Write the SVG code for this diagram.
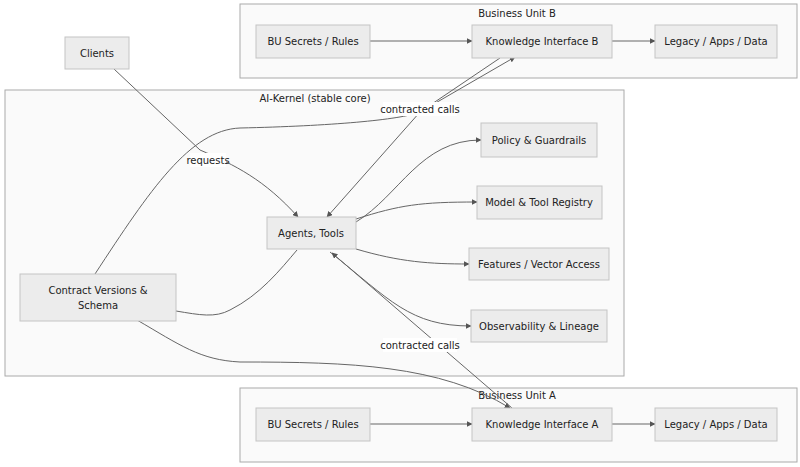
<svg xmlns="http://www.w3.org/2000/svg" width="800" height="467" viewBox="0 0 800 467">
<style>
text{font-family:"DejaVu Sans","Noto Sans",sans-serif;font-size:10px;fill:#222;text-anchor:middle;dominant-baseline:central}
.cl{fill:#fafafa;stroke:#aaa;stroke-width:1}
.n rect{fill:#ececec;stroke:#c4c4c4;stroke-width:1}
.e{fill:none;stroke:#666;stroke-width:1}
.lb{fill:#fff}
</style>
<defs><marker id="a" viewBox="0 0 10 10" refX="9" refY="5" markerWidth="6" markerHeight="6" orient="auto"><path d="M0,0L10,5L0,10z" fill="#555"/></marker></defs>
<rect x="0" y="0" width="800" height="467" fill="#fff"/>
<g id="clusterB"><rect class="cl" x="240" y="4" width="557" height="74"/><text x="517" y="13">Business Unit B</text></g>
<g id="kernel"><rect class="cl" x="5" y="90" width="619" height="286"/><text x="315" y="98">AI-Kernel (stable core)</text></g>
<g id="clusterA"><rect class="cl" x="240" y="388" width="557" height="74"/><text x="517" y="395">Business Unit A</text></g>
<g id="connectors">
<path class="e" marker-end="url(#a)" d="M370,41H472"/>
<path class="e" marker-end="url(#a)" d="M612,41H655"/>
<path class="e" marker-end="url(#a)" d="M370,424H472"/>
<path class="e" marker-end="url(#a)" d="M612,424H655"/>
<path class="e" marker-end="url(#a)" d="M114,69L200,150C235,165 265,180 298,217"/>
<path class="e" marker-end="url(#a)" d="M95,274C150,190 190,130 240,128C330,126 400,120 420,112L515,57"/>
<path class="e" marker-end="url(#a)" d="M500,58L420,112L327,217"/>
<path class="e" marker-end="url(#a)" d="M356,222C400,195 420,140 481,140"/>
<path class="e" marker-end="url(#a)" d="M356,219C400,205 420,202 477,202"/>
<path class="e" marker-end="url(#a)" d="M356,249C400,262 430,264 469,264"/>
<path class="e" marker-end="url(#a)" d="M330,252C390,300 410,326 471,326"/>
<path class="e" d="M176,311C200,315 215,318 230,310C260,295 280,270 297,250"/>
<path class="e" marker-end="url(#a)" d="M137,320C180,345 200,360 240,362C350,362 440,365 510,408"/>
<path class="e" marker-end="url(#a)" d="M512,408L440,346L332,253"/>
</g>
<rect class="lb" x="190" y="153" width="36" height="14"/><text x="208" y="160">requests</text>
<rect class="lb" x="383" y="102" width="74" height="14"/><text x="420" y="109">contracted calls</text>
<rect class="lb" x="383" y="338" width="74" height="14"/><text x="420" y="345">contracted calls</text>
<g id="clients" class="n"><rect x="65" y="37" width="64" height="32"/><text x="97" y="53">Clients</text></g>
<g id="secretsB" class="n"><rect x="256" y="25" width="114" height="33"/><text x="313" y="41">BU Secrets / Rules</text></g>
<g id="kiB" class="n"><rect x="472" y="25" width="140" height="33"/><text x="542" y="41">Knowledge Interface B</text></g>
<g id="legacyB" class="n"><rect x="655" y="25" width="122" height="33"/><text x="716" y="41">Legacy / Apps / Data</text></g>
<g id="policy" class="n"><rect x="481" y="123" width="116" height="34"/><text x="539" y="140">Policy &amp; Guardrails</text></g>
<g id="registry" class="n"><rect x="477" y="186" width="125" height="33"/><text x="539" y="202">Model &amp; Tool Registry</text></g>
<g id="features" class="n"><rect x="469" y="248" width="140" height="32"/><text x="539" y="264">Features / Vector Access</text></g>
<g id="observ" class="n"><rect x="471" y="310" width="136" height="32"/><text x="539" y="326">Observability &amp; Lineage</text></g>
<g id="agents" class="n"><rect x="267" y="217" width="89" height="32"/><text x="311" y="233">Agents, Tools</text></g>
<g id="contract" class="n"><rect x="20" y="274" width="156" height="47"/><text x="98" y="290">Contract Versions &amp;</text><text x="98" y="305">Schema</text></g>
<g id="secretsA" class="n"><rect x="256" y="408" width="114" height="33"/><text x="313" y="424">BU Secrets / Rules</text></g>
<g id="kiA" class="n"><rect x="472" y="408" width="140" height="33"/><text x="542" y="424">Knowledge Interface A</text></g>
<g id="legacyA" class="n"><rect x="655" y="408" width="122" height="33"/><text x="716" y="424">Legacy / Apps / Data</text></g>
</svg>
